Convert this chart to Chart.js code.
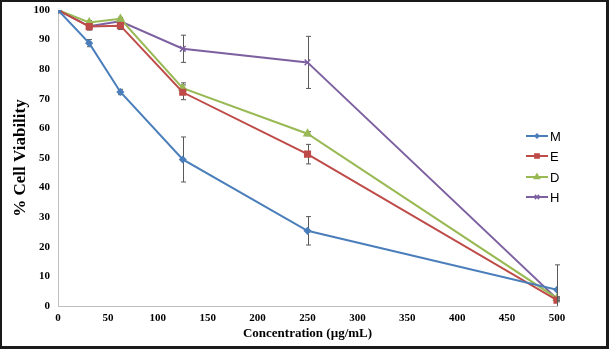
<!DOCTYPE html>
<html>
<head>
<meta charset="utf-8">
<script src="https://cdn.jsdelivr.net/npm/chart.js@4.4.1/dist/chart.umd.min.js"></script>
<style>
  html, body { margin: 0; padding: 0; background: #fff; }
  #wrap { position: relative; width: 609px; height: 351px; }
</style>
</head>
<body>
<div id="wrap"><canvas id="chart" width="609" height="351"></canvas></div>
<script>
// concentrations (µg/mL)
const conc = [0, 31.25, 62.5, 125, 250, 500];

// % cell viability per extract
const mVals = [100, 88.8, 72.3, 49.5, 25.4, 5.5];
const eVals = [100, 94.4, 94.7, 72.2, 51.3, 2.0];
const dVals = [100, 95.8, 97.0, 73.6, 58.2, 2.6];
const hVals = [100, 94.5, 96.2, 86.9, 82.3, 2.4];

// error bar half heights
const mErr = [0, 1.2, 0.9, 7.6, 4.8, 8.4];
const eErr = [0, 1.2, 1.3, 2.5, 3.3, 0.6];
const dErr = [0, 0.6, 0.5, 1.8, 0.7, 0.5];
const hErr = [0, 0.8, 0.6, 4.6, 8.8, 0.6];

const seriesNames = ["M", "E", "D", "H"];
const seriesColors = ["#4A7EBB", "#BE4B48", "#98B954", "#7D60A0"];
const pointStyles = ["rectRot", "rect", "triangle", "crossRot"];
const pointSizes = [3, 4, 4, 4];
const xTicks = [0, 50, 100, 150, 200, 250, 300, 350, 400, 450, 500];

const allVals = [mVals, eVals, dVals, hVals];
const allErr = [mErr, eErr, dErr, hErr];

const datasets = seriesNames.map((name, i) => ({
  label: name,
  data: conc.map((c, j) => ({ x: c, y: allVals[i][j] })),
  errors: allErr[i],
  borderColor: seriesColors[i],
  backgroundColor: seriesColors[i],
  pointBorderColor: seriesColors[i],
  pointBackgroundColor: seriesColors[i],
  pointStyle: pointStyles[i],
  pointRadius: pointSizes[i],
  pointBorderWidth: 1.5,
  borderWidth: 2,
  tension: 0
}));

const serif = "'Liberation Serif', 'Times New Roman', serif";

const frame = {
  id: "frame",
  afterDraw(chart) {
    const ctx = chart.ctx;
    ctx.save();
    ctx.strokeStyle = "#1a1a1a";
    ctx.lineWidth = 3;
    ctx.strokeRect(0.5, 0.5, 607, 347);
    ctx.restore();
  }
};

const errorBars = {
  id: "errorBars",
  beforeDatasetsDraw(chart) {
    const ctx = chart.ctx;
    const xs = chart.scales.x, ys = chart.scales.y;
    const area = chart.chartArea;
    ctx.save();
    ctx.beginPath();
    ctx.rect(area.left - 5, area.top - 5, area.right - area.left + 10, area.bottom - area.top + 5);
    ctx.clip();
    ctx.strokeStyle = "#595959";
    ctx.lineWidth = 1;
    chart.data.datasets.forEach(ds => {
      ds.data.forEach((p, j) => {
        const e = ds.errors[j];
        if (!e) return;
        const px = Math.round(xs.getPixelForValue(p.x)) + 0.5;
        const top = ys.getPixelForValue(p.y + e);
        const bot = ys.getPixelForValue(p.y - e);
        ctx.beginPath();
        ctx.moveTo(px, top); ctx.lineTo(px, bot);
        ctx.moveTo(px - 2.5, top); ctx.lineTo(px + 2.5, top);
        ctx.moveTo(px - 2.5, bot); ctx.lineTo(px + 2.5, bot);
        ctx.stroke();
      });
    });
    ctx.restore();
  }
};

const legendBox = {
  id: "legendBox",
  afterDraw(chart) {
    const ctx = chart.ctx;
    const ys = [136, 156, 177, 197];
    ctx.save();
    chart.data.datasets.forEach((ds, i) => {
      const y = ys[i];
      ctx.strokeStyle = ds.borderColor;
      ctx.fillStyle = ds.borderColor;
      ctx.lineWidth = 2;
      ctx.beginPath();
      ctx.moveTo(526, y); ctx.lineTo(548, y);
      ctx.stroke();
      ctx.lineWidth = 1.5;
      Chart.helpers.drawPoint(ctx, {
        pointStyle: ds.pointStyle,
        radius: ds.pointRadius - 1,
        borderWidth: 1.5,
        rotation: 0
      }, 537, y);
      ctx.fillStyle = "#000";
      ctx.font = "13px 'Liberation Sans', Arial, sans-serif";
      ctx.textBaseline = "middle";
      ctx.fillText(ds.label, 550, y + 1);
    });
    ctx.restore();
  }
};

new Chart(document.getElementById("chart").getContext("2d"), {
  type: "line",
  data: { datasets },
  options: {
    responsive: false,
    animation: false,
    layout: { padding: { left: 0, right: 52, top: 10, bottom: 0 } },
    plugins: { legend: { display: false }, tooltip: { enabled: false } },
    scales: {
      x: {
        type: "linear",
        min: 0,
        max: 500,
        afterBuildTicks: s => { s.ticks = xTicks.map(v => ({ value: v })); },
        afterFit: s => { s.height = 45; s.paddingLeft = 0; s.paddingRight = 0; },
        grid: { display: false, drawTicks: false },
        border: { display: true, color: "#BFBFBF", width: 1 },
        ticks: {
          padding: 6,
          color: "#000",
          maxRotation: 0,
          font: { family: serif, size: 11, weight: "bold" }
        },
        title: {
          display: true,
          text: "Concentration (µg/mL)",
          color: "#000",
          padding: { top: 0, bottom: 10 },
          font: { family: serif, size: 13, weight: "bold" }
        }
      },
      y: {
        min: 0,
        max: 100,
        ticks: {
          stepSize: 10,
          padding: 8,
          color: "#000",
          font: { family: serif, size: 11, weight: "bold" }
        },
        afterFit: s => { s.width = 58; s.paddingTop = 0; s.paddingBottom = 0; },
        grid: { display: false, drawTicks: false },
        border: { display: true, color: "#BFBFBF", width: 1 },
        title: {
          display: true,
          text: "% Cell Viability",
          color: "#000",
          padding: { top: 10, bottom: 0 },
          font: { family: serif, size: 17, weight: "bold" }
        }
      }
    }
  },
  plugins: [errorBars, legendBox, frame]
});
</script>
</body>
</html>
